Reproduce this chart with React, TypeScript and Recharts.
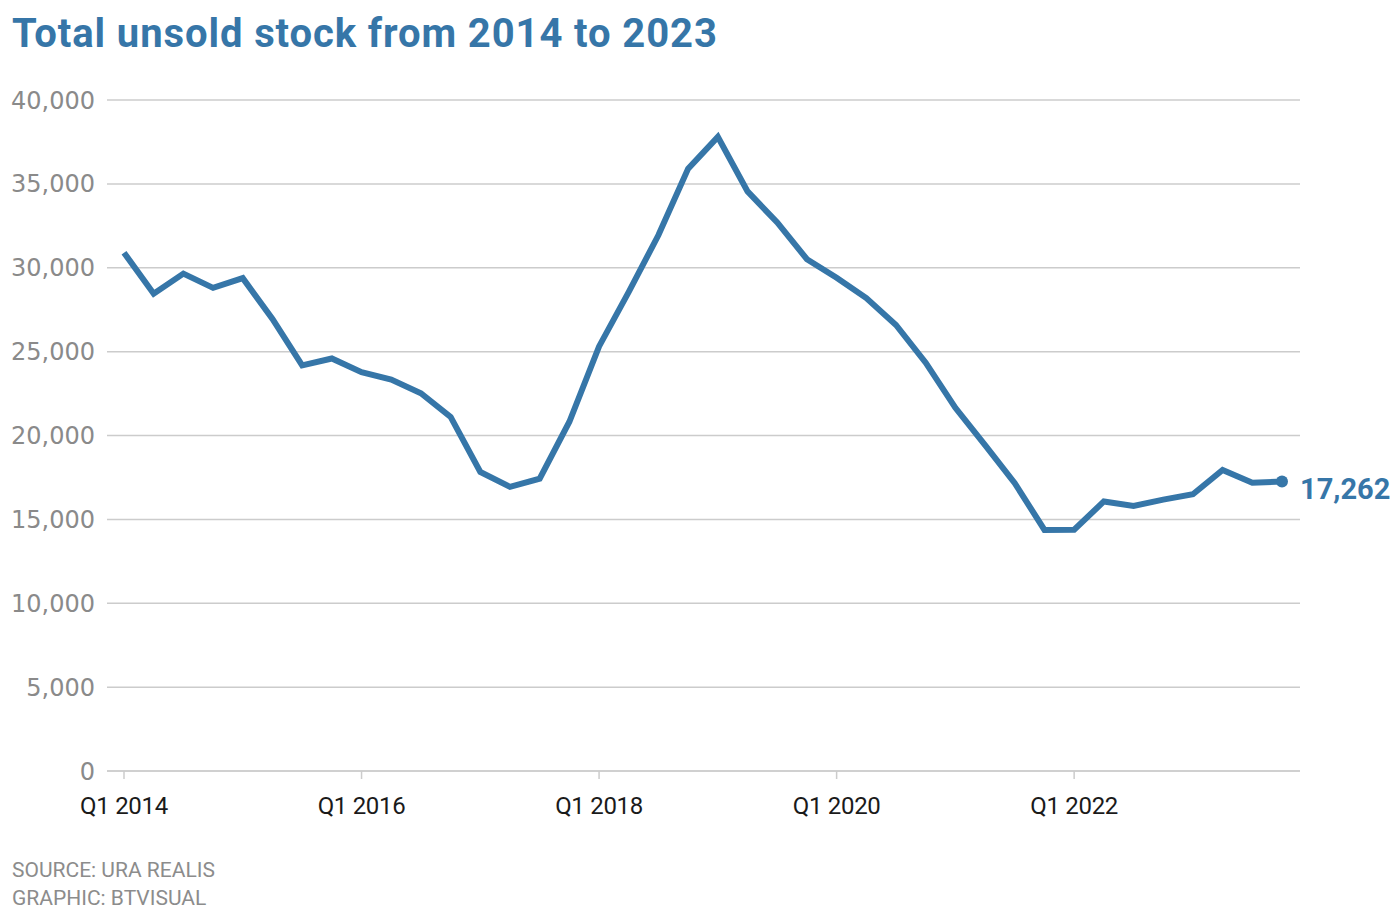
import React from "react";
import { LineChart, Line, XAxis, YAxis, CartesianGrid, LabelList } from "recharts";

const quarters = [
  "Q1 2014", "Q2 2014", "Q3 2014", "Q4 2014",
  "Q1 2015", "Q2 2015", "Q3 2015", "Q4 2015",
  "Q1 2016", "Q2 2016", "Q3 2016", "Q4 2016",
  "Q1 2017", "Q2 2017", "Q3 2017", "Q4 2017",
  "Q1 2018", "Q2 2018", "Q3 2018", "Q4 2018",
  "Q1 2019", "Q2 2019", "Q3 2019", "Q4 2019",
  "Q1 2020", "Q2 2020", "Q3 2020", "Q4 2020",
  "Q1 2021", "Q2 2021", "Q3 2021", "Q4 2021",
  "Q1 2022", "Q2 2022", "Q3 2022", "Q4 2022",
  "Q1 2023", "Q2 2023", "Q3 2023", "Q4 2023",
];

const unsoldStock = [
  30900, 28450, 29650, 28800,
  29380, 26950, 24180, 24590,
  23770, 23340, 22520, 21110,
  17830, 16940, 17430, 20820,
  25310, 28560, 31950, 35910,
  37800, 34550, 32700, 30510,
  29400, 28190, 26590, 24340,
  21650, 19430, 17160, 14370,
  14380, 16070, 15800, 16180,
  16500, 17950, 17180, 17262,
];

const yTicks = [0, 5000, 10000, 15000, 20000, 25000, 30000, 35000, 40000];

const title = "Total unsold stock from 2014 to 2023";
const sourceText = "SOURCE: URA REALIS";
const graphicText = "GRAPHIC: BTVISUAL";

const BLUE = "#3676a8";
const GRID = "#cccccc";

const data = quarters.map((q, i) => ({ quarter: q, value: unsoldStock[i] }));
const lastIndex = data.length - 1;

const fmt = (v: number) => v.toLocaleString("en-US");

const renderDot = (props: any) => {
  const { cx, cy, index } = props;
  if (index !== lastIndex) return <g key={`d-${index}`} />;
  return <circle key={`d-${index}`} cx={cx} cy={cy} r={6} fill={BLUE} />;
};

const renderEndLabel = (props: any) => {
  const { x, y, index, value } = props;
  if (index !== lastIndex) return null;
  return (
    <text
      key="end-label"
      x={Number(x) + 18}
      y={Number(y) + 17.5}
      fill={BLUE}
      fontSize={29}
      fontWeight={700}
      fontFamily="Roboto, sans-serif"
      textAnchor="start"
    >
      {fmt(Number(value))}
    </text>
  );
};

export default function App() {
  return (
    <div style={{ position: "absolute", left: 0, top: 0, width: 1397, height: 909, background: "#fff" }}>
      <LineChart
        width={1397}
        height={909}
        data={data}
        margin={{ top: 100, right: 97, bottom: 98, left: 0 }}
      >
        <CartesianGrid vertical={false} stroke={GRID} strokeWidth={1.5} />
        <XAxis
          dataKey="quarter"
          interval={7}
          padding={{ left: 17, right: 18 }}
          height={40}
          axisLine={{ stroke: GRID, strokeWidth: 1.5 }}
          tickLine={{ stroke: GRID, strokeWidth: 1.5 }}
          tickSize={8}
          tickMargin={18}
          tick={{ fill: "#1a1a1a", fontSize: 24, fontFamily: "Roboto, sans-serif", letterSpacing: -0.3 }}
        />
        <YAxis
          domain={[0, 40000]}
          ticks={yTicks}
          width={107}
          axisLine={false}
          tickLine={false}
          tickSize={6}
          tickMargin={6}
          tickFormatter={fmt}
          tick={{ fill: "#8a8a8a", fontSize: 24, fontFamily: "DejaVu Sans, sans-serif" }}
        />
        <Line
          type="linear"
          dataKey="value"
          stroke={BLUE}
          strokeWidth={6}
          dot={renderDot}
          activeDot={false}
          isAnimationActive={false}
        >
          <LabelList dataKey="value" content={renderEndLabel} />
        </Line>
      </LineChart>
      <svg
        width={1397}
        height={909}
        style={{ position: "absolute", left: 0, top: 0, pointerEvents: "none" }}
      >
        <text x={12} y={47} fill={BLUE} fontSize={40} fontWeight={700} fontFamily="Roboto, sans-serif" letterSpacing={0.9}>
          {title}
        </text>
        <text x={12} y={877} fill="#8c8c8c" fontSize={21} fontFamily="Roboto, sans-serif">
          {sourceText}
        </text>
        <text x={12} y={905} fill="#8c8c8c" fontSize={21} fontFamily="Roboto, sans-serif">
          {graphicText}
        </text>
      </svg>
    </div>
  );
}
